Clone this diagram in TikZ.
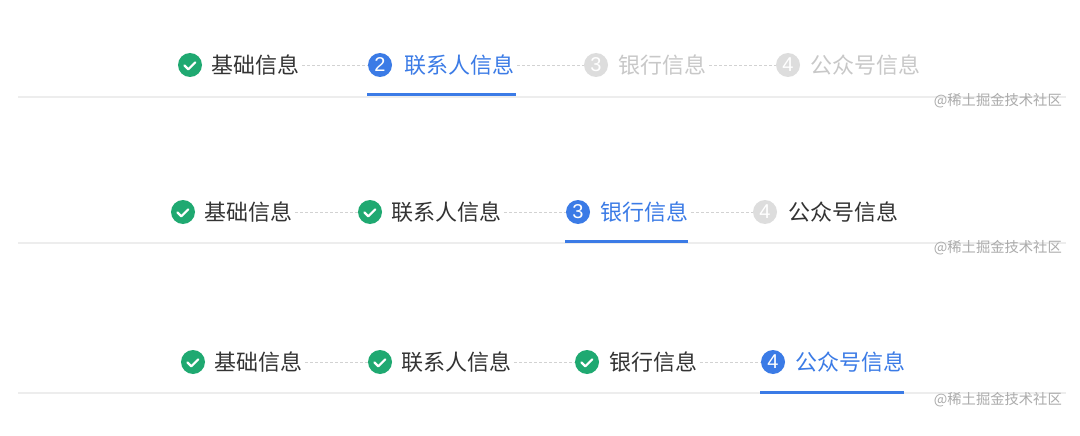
\documentclass[tikz,border=0pt]{standalone}
\usepackage{fontspec}
\setmainfont{Noto Sans CJK SC}
\newfontfamily\digitfont{Liberation Sans}
\definecolor{okgreen}{HTML}{1FA971}
\definecolor{actblue}{HTML}{3B7BE6}
\definecolor{idlegray}{HTML}{DDDDDD}
\definecolor{darktext}{HTML}{333333}
\definecolor{lighttext}{HTML}{C8C8C8}
\definecolor{dashgray}{HTML}{D2D2D2}
\definecolor{basegray}{HTML}{EDEDED}
\definecolor{markgray}{HTML}{ABABAB}
\tikzset{
  x=1pt, y=-1pt,
  stepdot/.style={circle, minimum size=24pt, inner sep=0pt, text=white, font=\digitfont\fontsize{20}{20}\selectfont},
  donedot/.style={stepdot, fill=okgreen},
  actdot/.style={stepdot, fill=actblue},
  idledot/.style={stepdot, fill=idlegray},
  lbl/.style={anchor=west, inner sep=0pt, font=\fontsize{22}{22}\selectfont},
  donelbl/.style={lbl, text=darktext},
  actlbl/.style={lbl, text=actblue},
  idlelbl/.style={lbl, text=lighttext},
  checkline/.style={draw=white, line width=2.2pt, line cap=round, line join=round},
  steplink/.style={draw=dashgray, dash pattern=on 3pt off 2pt, line width=0.8pt, shorten <=3pt},
  baseln/.style={draw=basegray, line width=1.5pt},
  underbar/.style={draw=actblue, line width=3pt},
  wmark/.style={anchor=east, inner sep=0pt, text=markgray, font=\fontsize{14.3}{14.3}\selectfont}
}
\begin{document}
\begin{tikzpicture}
\useasboundingbox[fill=white] (0,0) rectangle (1080,436);

% ---------- Row 1 ----------
\coordinate (b1l) at (18,97);
\coordinate (b1r) at (1066,97);
\draw[baseln] (b1l) -- (b1r);
\node[donedot] (r1c1) at (190,65) {};
\draw[checkline] ([shift={(-5.5,0.5)}]r1c1.center) -- ++(3.8,3.8) -- ++(7,-7);
\node[donelbl] (r1t1) at (211,65) {基础信息};
\node[actdot] (r1c2) at (380,65) {2};
\node[actlbl] (r1t2) at (404,65) {联系人信息};
\node[idledot] (r1c3) at (596,65) {3};
\node[idlelbl] (r1t3) at (618,65) {银行信息};
\node[idledot] (r1c4) at (788,65) {4};
\node[idlelbl] (r1t4) at (810,65) {公众号信息};
\draw[steplink] (r1t1.east) -- (r1c2.west);
\draw[steplink] (r1t2.east) -- (r1c3.west);
\draw[steplink] (r1t3.east) -- (r1c4.west);
\coordinate (u1l) at (367,95);
\coordinate (u1r) at (516,95);
\draw[underbar] (u1l) -- (u1r);
\node[wmark] (w1) at (1062,101) {@稀土掘金技术社区};

% ---------- Row 2 ----------
\coordinate (b2l) at (18,243);
\coordinate (b2r) at (1066,243);
\draw[baseln] (b2l) -- (b2r);
\node[donedot] (r2c1) at (183,212) {};
\draw[checkline] ([shift={(-5.5,0.5)}]r2c1.center) -- ++(3.8,3.8) -- ++(7,-7);
\node[donelbl] (r2t1) at (204,212) {基础信息};
\node[donedot] (r2c2) at (370,212) {};
\draw[checkline] ([shift={(-5.5,0.5)}]r2c2.center) -- ++(3.8,3.8) -- ++(7,-7);
\node[donelbl] (r2t2) at (391,212) {联系人信息};
\node[actdot] (r2c3) at (578,212) {3};
\node[actlbl] (r2t3) at (600,212) {银行信息};
\node[idledot] (r2c4) at (765,212) {4};
\node[donelbl] (r2t4) at (788,212) {公众号信息};
\draw[steplink] (r2t1.east) -- (r2c2.west);
\draw[steplink] (r2t2.east) -- (r2c3.west);
\draw[steplink] (r2t3.east) -- (r2c4.west);
\coordinate (u2l) at (565,241);
\coordinate (u2r) at (688,241);
\draw[underbar] (u2l) -- (u2r);
\node[wmark] (w2) at (1062,248) {@稀土掘金技术社区};

% ---------- Row 3 ----------
\coordinate (b3l) at (18,393);
\coordinate (b3r) at (1066,393);
\draw[baseln] (b3l) -- (b3r);
\node[donedot] (r3c1) at (193,362) {};
\draw[checkline] ([shift={(-5.5,0.5)}]r3c1.center) -- ++(3.8,3.8) -- ++(7,-7);
\node[donelbl] (r3t1) at (214,362) {基础信息};
\node[donedot] (r3c2) at (380,362) {};
\draw[checkline] ([shift={(-5.5,0.5)}]r3c2.center) -- ++(3.8,3.8) -- ++(7,-7);
\node[donelbl] (r3t2) at (401,362) {联系人信息};
\node[donedot] (r3c3) at (587,362) {};
\draw[checkline] ([shift={(-5.5,0.5)}]r3c3.center) -- ++(3.8,3.8) -- ++(7,-7);
\node[donelbl] (r3t3) at (609,362) {银行信息};
\node[actdot] (r3c4) at (773,362) {4};
\node[actlbl] (r3t4) at (795,362) {公众号信息};
\draw[steplink] (r3t1.east) -- (r3c2.west);
\draw[steplink] (r3t2.east) -- (r3c3.west);
\draw[steplink] (r3t3.east) -- (r3c4.west);
\coordinate (u3l) at (760,392);
\coordinate (u3r) at (904,392);
\draw[underbar] (u3l) -- (u3r);
\node[wmark] (w3) at (1062,400) {@稀土掘金技术社区};
\end{tikzpicture}
\end{document}
